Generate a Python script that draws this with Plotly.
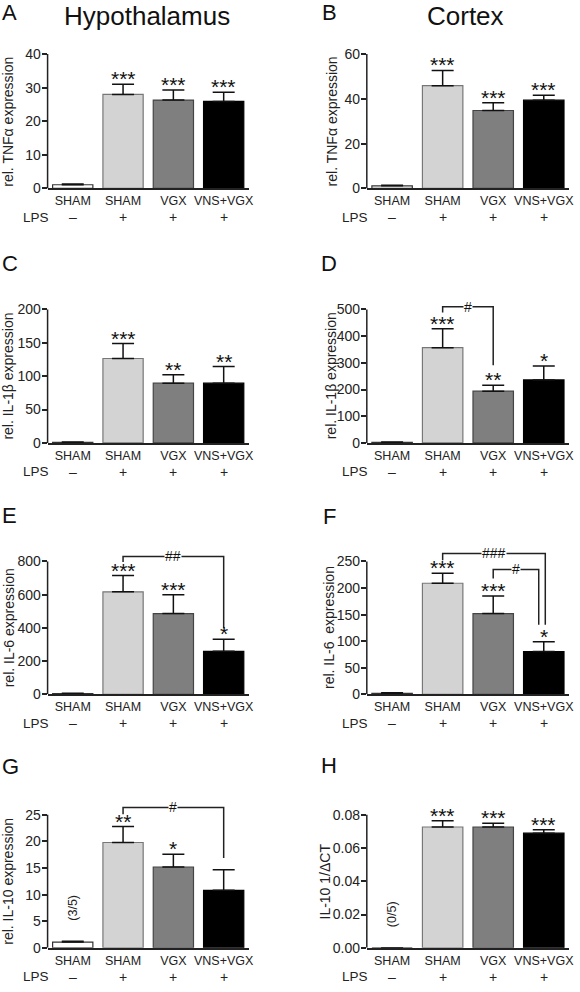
import plotly.graph_objects as go

# ---------------- data ----------------
groups = ["SHAM", "SHAM", "VGX", "VNS+VGX"]
lps = ["–", "+", "+", "+"]

tnf_hyp = [1.1, 28.0, 26.3, 25.9]
tnf_hyp_sem = [0.2, 3.0, 3.0, 2.7]
tnf_hyp_sig = ["", "***", "***", "***"]

tnf_ctx = [1.2, 45.9, 34.8, 39.4]
tnf_ctx_sem = [0.2, 6.8, 3.5, 2.2]
tnf_ctx_sig = ["", "***", "***", "***"]

il1b_hyp = [1.0, 126.5, 89.5, 89.5]
il1b_hyp_sem = [0.5, 22.5, 12.8, 25.0]
il1b_hyp_sig = ["", "***", "**", "**"]

il1b_ctx = [2.0, 357.0, 194.0, 236.0]
il1b_ctx_sem = [1.0, 71.0, 22.0, 52.0]
il1b_ctx_sig = ["", "***", "**", "*"]

il6_hyp = [4.0, 617.0, 486.0, 259.0]
il6_hyp_sem = [2.0, 98.0, 113.0, 73.0]
il6_hyp_sig = ["", "***", "***", "*"]

il6_ctx = [2.0, 209.0, 152.0, 80.5]
il6_ctx_sem = [1.0, 19.0, 33.0, 18.5]
il6_ctx_sig = ["", "***", "***", "*"]

il10_hyp = [1.07, 19.8, 15.2, 10.8]
il10_hyp_sem = [0.18, 3.0, 2.4, 3.9]
il10_hyp_sig = ["", "**", "*", ""]

il10_ctx = [0.0, 0.0727, 0.0727, 0.0690]
il10_ctx_sem = [0.0, 0.0037, 0.0023, 0.0021]
il10_ctx_sig = ["", "***", "***", "***"]

# comparisons: (from group, to group, label, bracket top, left leg end, right leg end)
il1b_ctx_cmp = [(1, 2, "#", 510, 489, 291)]
il6_hyp_cmp = [(1, 3, "##", 830, 796, 398)]
il6_ctx_cmp = [(1, 3.03, "###", 265, 252, 131), (2, 2.9, "#", 235, 218, 131)]
il10_hyp_cmp = [(1, 3, "#", 26.4, 25.1, 16.9)]

ticks_tnf_hyp = [0, 10, 20, 30, 40]
ticks_tnf_ctx = [0, 20, 40, 60]
ticks_il1b_hyp = [0, 50, 100, 150, 200]
ticks_il1b_ctx = [0, 100, 200, 300, 400, 500]
ticks_il6_hyp = [0, 200, 400, 600, 800]
ticks_il6_ctx = [0, 50, 100, 150, 200, 250]
ticks_il10_hyp = [0, 5, 10, 15, 20, 25]
ticks_il10_ctx = [0, 0.02, 0.04, 0.06, 0.08]

panels = [
    dict(letter="A", ytitle="rel. TNFα expression", v=tnf_hyp, e=tnf_hyp_sem, sig=tnf_hyp_sig, ticks=ticks_tnf_hyp, cmp=[], fmt="{:g}"),
    dict(letter="B", ytitle="rel. TNFα expression", v=tnf_ctx, e=tnf_ctx_sem, sig=tnf_ctx_sig, ticks=ticks_tnf_ctx, cmp=[], fmt="{:g}"),
    dict(letter="C", ytitle="rel. IL-1β expression", v=il1b_hyp, e=il1b_hyp_sem, sig=il1b_hyp_sig, ticks=ticks_il1b_hyp, cmp=[], fmt="{:g}"),
    dict(letter="D", ytitle="rel. IL-1β expression", v=il1b_ctx, e=il1b_ctx_sem, sig=il1b_ctx_sig, ticks=ticks_il1b_ctx, cmp=il1b_ctx_cmp, fmt="{:g}"),
    dict(letter="E", ytitle="rel. IL-6 expression", v=il6_hyp, e=il6_hyp_sem, sig=il6_hyp_sig, ticks=ticks_il6_hyp, cmp=il6_hyp_cmp, fmt="{:g}"),
    dict(letter="F", ytitle="rel. IL-6  expression", v=il6_ctx, e=il6_ctx_sem, sig=il6_ctx_sig, ticks=ticks_il6_ctx, cmp=il6_ctx_cmp, fmt="{:g}"),
    dict(letter="G", ytitle="rel. IL-10 expression", v=il10_hyp, e=il10_hyp_sem, sig=il10_hyp_sig, ticks=ticks_il10_hyp, cmp=il10_hyp_cmp, fmt="{:g}", note="(3/5)", note_y=7.5),
    dict(letter="H", ytitle="IL-10 1/ΔCT", v=il10_ctx, e=il10_ctx_sem, sig=il10_ctx_sig, ticks=ticks_il10_ctx, cmp=[], fmt="{:.2f}", note="(0/5)", note_y=0.0203),
]

# ---------------- layout geometry (page pixels) ----------------
W, H = 580, 992
FONT = "Liberation Sans, Arial, sans-serif"
fills = ["#ffffff", "#d3d3d3", "#7f7f7f", "#000000"]
outlines = ["#333333", "#777777", "#444444", "#000000"]
col_px = [(48, 251), (370, 574)]
row_px = [(54.5, 190), (312, 446.5), (566, 700), (821.5, 955.5)]
ytitle_x = [8.5, 335, 8.5, 334, 8.5, 332, 8.5, 328]
letter_pos = [(10, 12.5), (332, 12.5), (10, 266), (332, 266),
              (10, 520), (332, 521), (11, 773), (332, 772)]
EXT = 1.1
AX = "#222222"


def px(p):
    return p / W


def py(p):
    return 1 - p / H


fig = go.Figure()
annotations = []
shapes = []
layout = {}

for i, p in enumerate(panels):
    r, c = divmod(i, 2)
    n = i + 1
    sfx = "" if n == 1 else str(n)
    xa, ya = f"x{sfx}", f"y{sfx}"
    x0p, x1p = col_px[c]
    ytop, ybot = row_px[r]
    ymax = p["ticks"][-1]
    dom_top = ybot - (ybot - ytop) * EXT

    fig.add_trace(go.Bar(
        x=[0, 1, 2, 3], y=p["v"], width=0.8,
        marker=dict(color=fills, line=dict(color=outlines, width=1.2)),
        error_y=dict(type="data", symmetric=False, array=p["e"], arrayminus=[0, 0, 0, 0],
                     width=11, thickness=1.5, color="#111111"),
        xaxis=xa, yaxis=ya, showlegend=False, hoverinfo="skip"))

    layout[f"xaxis{sfx}"] = dict(
        domain=[px(x0p), px(x1p)], range=[-0.5, 3.5], anchor=ya,
        tickvals=[0, 1, 2, 3], ticktext=groups, ticks="", showline=True,
        linecolor=AX, linewidth=1.5, showgrid=False, zeroline=False,
        tickfont=dict(size=12.5, color="#222", family=FONT), fixedrange=True)
    layout[f"yaxis{sfx}"] = dict(
        domain=[py(ybot), py(dom_top)], range=[0, ymax * EXT], anchor=xa,
        tickvals=p["ticks"], ticktext=[p["fmt"].format(t) for t in p["ticks"]],
        ticks="outside", ticklen=5, tickwidth=1.5, tickcolor=AX, showline=False,
        showgrid=False, zeroline=False, ticklabelstandoff=-2,
        tickfont=dict(size=14, color="#222", family=FONT), fixedrange=True)

    # y axis line only up to the top tick
    shapes.append(dict(type="line", xref=f"{xa} domain", yref=ya, x0=0, x1=0, y0=0, y1=ymax,
                       line=dict(color=AX, width=1.5)))

    # significance stars
    for k in range(4):
        if p["sig"][k]:
            annotations.append(dict(xref=xa, yref=ya, x=k, y=p["v"][k] + p["e"][k],
                                    text=p["sig"][k], showarrow=False, yanchor="bottom",
                                    yshift=-8, font=dict(size=21, color="#111", family=FONT)))
    # comparison brackets
    for (a, b, lab, top, yl, yr) in p["cmp"]:
        shapes.append(dict(type="path", xref=xa, yref=ya,
                           path=f"M {a},{yl} L {a},{top} L {b},{top} L {b},{yr}",
                           line=dict(color="#222", width=1.5)))
        annotations.append(dict(xref=xa, yref=ya, x=(a + b) / 2, y=top, text=lab,
                                showarrow=False, yanchor="middle", bgcolor="white",
                                borderpad=0, font=dict(size=14, color="#111", family=FONT)))
    # note for undetected samples
    if p.get("note"):
        annotations.append(dict(xref=xa, yref=ya, x=0, y=p["note_y"], text=p["note"],
                                textangle=-90, showarrow=False,
                                font=dict(size=12.5, color="#222", family=FONT)))
    # LPS row
    for k in range(4):
        annotations.append(dict(xref=xa, yref=ya, x=k, y=0, yshift=-29, text=lps[k],
                                showarrow=False, yanchor="middle",
                                font=dict(size=14, color="#222", family=FONT)))
    lps_x = 36 if c == 0 else 358
    annotations.append(dict(xref="paper", yref=ya, x=px(lps_x), y=0, yshift=-29, text="LPS",
                            showarrow=False, yanchor="middle", xanchor="center",
                            font=dict(size=13.5, color="#222", family=FONT)))
    # y axis title
    annotations.append(dict(xref="paper", yref="paper", x=px(ytitle_x[i]), y=py((ytop + ybot) / 2),
                            text=p["ytitle"], textangle=-90, showarrow=False,
                            xanchor="center", yanchor="middle",
                            font=dict(size=14, color="#222", family=FONT)))
    # panel letter
    lx, ly = letter_pos[i]
    annotations.append(dict(xref="paper", yref="paper", x=px(lx), y=py(ly),
                            text=p["letter"], showarrow=False, xanchor="center", yanchor="middle",
                            font=dict(size=22, color="#111", family=FONT)))

annotations.append(dict(xref="paper", yref="paper", x=px(148), y=1, text="Hypothalamus",
                        showarrow=False, xanchor="center", yanchor="top", borderpad=0,
                        font=dict(size=26, color="#111", family=FONT)))
annotations.append(dict(xref="paper", yref="paper", x=px(470), y=1, text="Cortex",
                        showarrow=False, xanchor="center", yanchor="top", borderpad=0,
                        font=dict(size=26, color="#111", family=FONT)))

fig.update_layout(width=W, height=H, margin=dict(l=0, r=0, t=0, b=0),
                  paper_bgcolor="white", plot_bgcolor="white",
                  font=dict(family=FONT, color="#222"),
                  annotations=annotations, shapes=shapes, bargap=0.2, **layout)

# remove the default page margin so the 580x992 figure fills the window exactly
fig.write_html("out.html", config={"displayModeBar": False},
               post_script="document.body.style.margin='0';document.body.style.overflow='hidden';")
